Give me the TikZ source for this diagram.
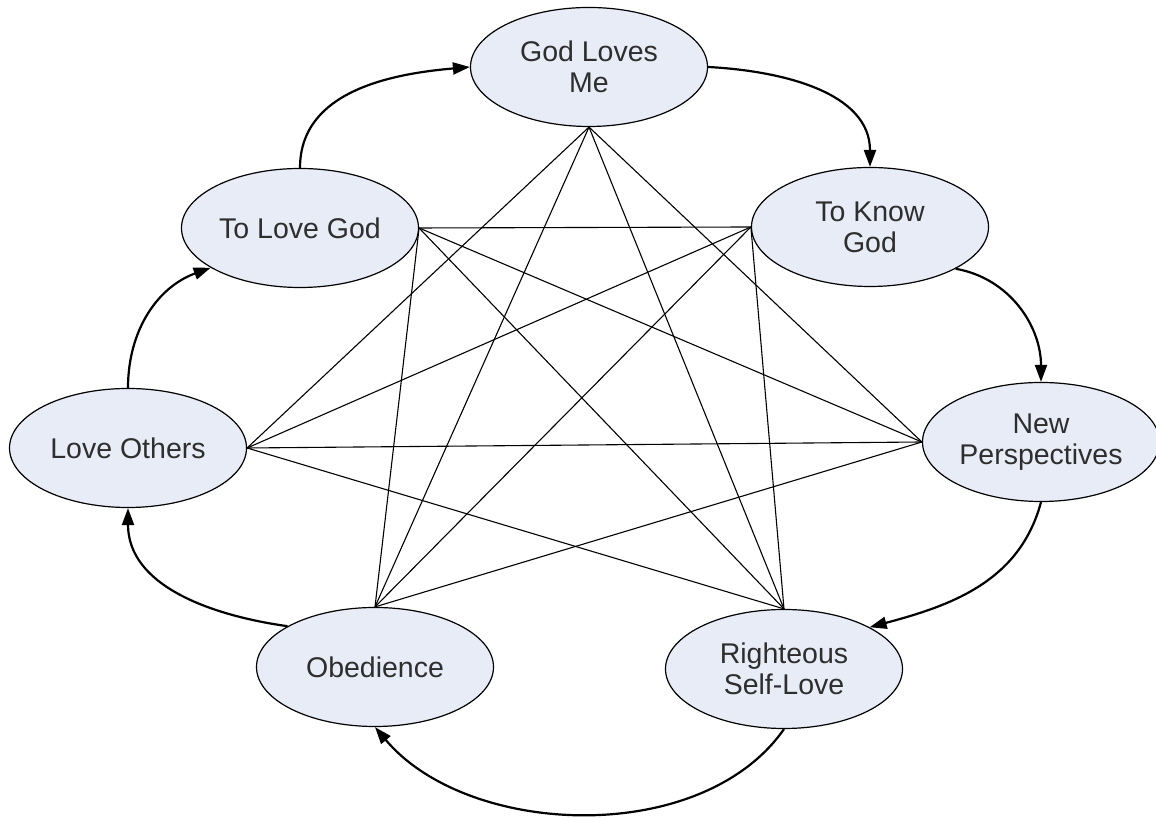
\documentclass[tikz,border=0pt]{standalone}
\usepackage{fontspec}
\setmainfont{Liberation Sans}
\usetikzlibrary{shapes.geometric,arrows.meta}
\definecolor{nodefill}{RGB}{231,236,247}
\begin{document}
\begin{tikzpicture}[x=1pt,y=1pt,
  concept/.style={ellipse, draw=black, line width=1.2pt, fill=nodefill,
    minimum width=237pt, minimum height=119pt, inner sep=0pt, align=center,
    text=black!82, font=\fontsize{28.5}{31}\selectfont},
  link/.style={line width=1.1pt},
  flow/.style={line width=2.2pt, -{Triangle[length=17pt,width=12pt]}}]
\useasboundingbox (0,0) rectangle (1156,818);
\clip (0,0) rectangle (1156,818);
% nodes
\node[concept] (G) at (589,751) {God Loves\\Me};
\node[concept] (L) at (300,590) {To Love God};
\node[concept] (K) at (870,591) {To Know\\God};
\node[concept] (O) at (128,370) {Love Others};
\node[concept] (N) at (1041,376) {New\\Perspectives};
\node[concept] (B) at (375,151) {Obedience};
\node[concept] (R) at (784,149) {Righteous\\Self-Love};
% straight links
\draw[link] (G.south) -- (O.east);
\draw[link] (G.south) -- (B.north);
\draw[link] (G.south) -- (R.north);
\draw[link] (G.south) -- (N.west);
\draw[link] (L.east) -- (K.west);
\draw[link] (L.east) -- (N.west);
\draw[link] (L.east) -- (R.north);
\draw[link] (L.east) -- (B.north);
\draw[link] (K.west) -- (O.east);
\draw[link] (K.west) -- (B.north);
\draw[link] (K.west) -- (R.north);
\draw[link] (O.east) -- (N.west);
\draw[link] (O.east) -- (R.north);
\draw[link] (N.west) -- (B.north);
% cycle arrows
\draw[flow] (L.north) to[out=90,in=185] (G.west);
\draw[flow] (G.east) to[out=-3,in=90] (K.north);
\draw[flow] (K.-26) to[out=-10,in=90] (N.north);
\draw[flow] (N.south) to[out=-105,in=15] (R.26);
\draw[flow] (R.south) to[out=-125,in=-50,looseness=0.9] (B.south);
\draw[flow] (B.155) to[out=172,in=-90] (O.south);
\draw[flow] (O.north) to[out=90,in=200] (L.204);
\end{tikzpicture}
\end{document}
